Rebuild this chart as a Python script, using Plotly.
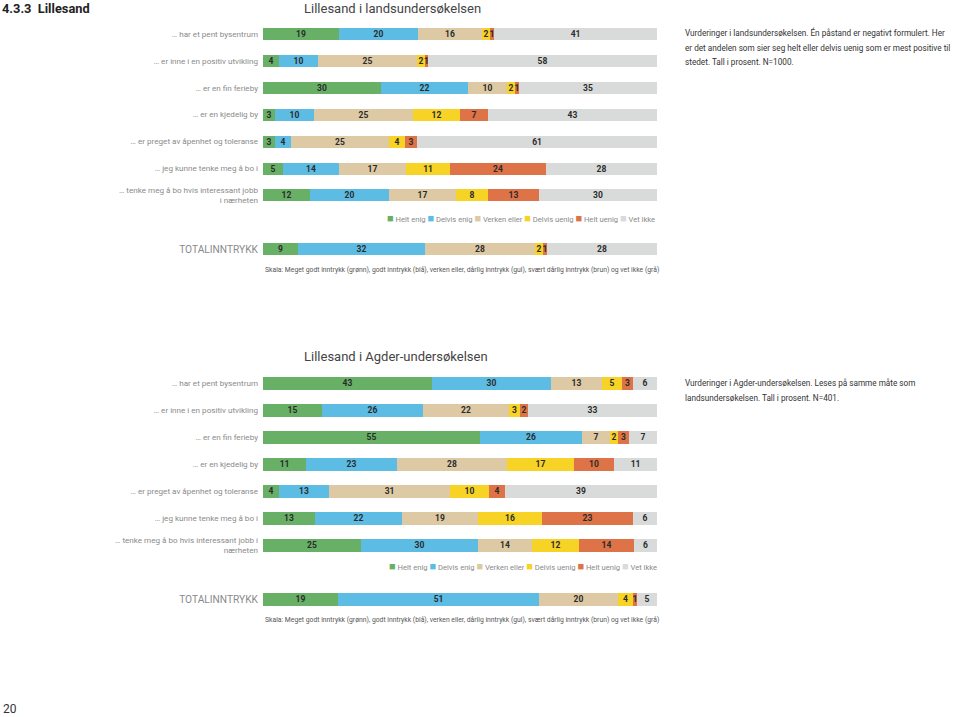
import plotly.graph_objects as go

W, H = 960, 717

series = ["Helt enig", "Delvis enig", "Verken eller", "Delvis uenig", "Helt uenig", "Vet ikke"]
colors = ["#67b066", "#5cbce4", "#ddcaa5", "#f6d325", "#dd7346", "#d9dbdb"]

land_categories = [
    "… har et pent bysentrum",
    "… er inne i en positiv utvikling",
    "… er en fin ferieby",
    "… er en kjedelig by",
    "… er preget av åpenhet og toleranse",
    "… jeg kunne tenke meg å bo i",
    "… tenke meg å bo hvis interessant jobb<br>i nærheten",
]
land_helt_enig = [19, 4, 30, 3, 3, 5, 12]
land_delvis_enig = [20, 10, 22, 10, 4, 14, 20]
land_verken = [16, 25, 10, 25, 25, 17, 17]
land_delvis_uenig = [2, 2, 2, 12, 4, 11, 8]
land_helt_uenig = [1, 1, 1, 7, 3, 24, 13]
land_vet_ikke = [41, 58, 35, 43, 61, 28, 30]
land_total = [9, 32, 28, 2, 1, 28]

agder_categories = [
    "… har et pent bysentrum",
    "… er inne i en positiv utvikling",
    "… er en fin ferieby",
    "… er en kjedelig by",
    "… er preget av åpenhet og toleranse",
    "… jeg kunne tenke meg å bo i",
    "… tenke meg å bo hvis interessant jobb i<br>nærheten",
]
agder_helt_enig = [43, 15, 55, 11, 4, 13, 25]
agder_delvis_enig = [30, 26, 26, 23, 13, 22, 30]
agder_verken = [13, 22, 7, 28, 31, 19, 14]
agder_delvis_uenig = [5, 3, 2, 17, 10, 16, 12]
agder_helt_uenig = [3, 2, 3, 10, 4, 23, 14]
agder_vet_ikke = [6, 33, 7, 11, 39, 6, 6]
agder_total = [19, 51, 20, 4, 1, 5]

total_label = ["TOTALINNTRYKK"]

FONT = "Roboto, sans-serif"
fig = go.Figure()


def add_stack(cols, cats, xa, ya):
    sums = [sum(c[i] for c in cols) for i in range(len(cats))]
    for s, col, vals in zip(series, colors, cols):
        fig.add_trace(go.Bar(
            name=s, orientation="h", y=cats,
            x=[v / t * 100 for v, t in zip(vals, sums)],
            text=[str(v) for v in vals],
            textposition="inside", insidetextanchor="middle", textangle=0,
            constraintext="none", cliponaxis=False,
            textfont=dict(family=FONT, size=8.5, color="#2b2b2b", weight="bold"),
            marker=dict(color=col, line=dict(width=0)),
            width=0.45, xaxis=xa, yaxis=ya, showlegend=False,
            hoverinfo="skip",
        ))


land_cols = [land_helt_enig, land_delvis_enig, land_verken, land_delvis_uenig, land_helt_uenig, land_vet_ikke]
agder_cols = [agder_helt_enig, agder_delvis_enig, agder_verken, agder_delvis_uenig, agder_helt_uenig, agder_vet_ikke]

add_stack(land_cols, land_categories, "x", "y")
add_stack([[v] for v in land_total], total_label, "x2", "y2")
add_stack(agder_cols, agder_categories, "x3", "y3")
add_stack([[v] for v in agder_total], total_label, "x4", "y4")


def px(p):
    return p / W


def py(p):
    return 1 - p / H


xdom = [px(263), px(657)]
xax = dict(domain=xdom, range=[0, 100], visible=False, fixedrange=True)
yax = dict(showgrid=False, zeroline=False, showline=False, ticks="", fixedrange=True,
           tickfont=dict(family=FONT, size=8.1, color="#8a8a8a"), ticklabelstandoff=4)
ytot_font = dict(family=FONT, size=10.2, color="#8a8a8a")

fig.update_layout(
    width=W, height=H, margin=dict(l=0, r=0, t=0, b=0),
    paper_bgcolor="white", plot_bgcolor="white",
    barmode="stack", bargap=0,
    xaxis=dict(xax, anchor="y"),
    xaxis2=dict(xax, anchor="y2"),
    xaxis3=dict(xax, anchor="y3"),
    xaxis4=dict(xax, anchor="y4"),
    yaxis=dict(yax, anchor="x", domain=[py(34 + 6 * 26.83 + 13.4), py(34 - 13.4)],
               categoryorder="array", categoryarray=land_categories, range=[6.5, -0.5]),
    yaxis2=dict(yax, anchor="x2", domain=[py(249 + 13.4), py(249 - 13.4)], range=[0.5, -0.5],
                tickfont=ytot_font),
    yaxis3=dict(yax, anchor="x3", domain=[py(383 + 6 * 27 + 13.5), py(383 - 13.5)],
                categoryorder="array", categoryarray=agder_categories, range=[6.5, -0.5]),
    yaxis4=dict(yax, anchor="x4", domain=[py(599 + 13.5), py(599 - 13.5)], range=[0.5, -0.5],
                tickfont=ytot_font),
)


def legend_text():
    parts = [f'<span style="color:{c};font-size:11px">■</span> {s}' for s, c in zip(series, colors)]
    return " ".join(parts)


skala = ("Skala: Meget godt inntrykk (grønn), godt inntrykk (blå), verken eller, dårlig inntrykk (gul), "
         "svært dårlig inntrykk (brun) og vet ikke (grå)")

note_land = [
    "Vurderinger i landsundersøkelsen. Én påstand er negativt formulert. Her",
    "er det andelen som sier seg helt eller delvis uenig som er mest positive til",
    "stedet. Tall i prosent. N=1000.",
]
note_agder = [
    "Vurderinger i Agder-undersøkelsen. Leses på samme måte som",
    "landsundersøkelsen. Tall i prosent. N=401.",
]

ann = [
    dict(text="<b>4.3.3  Lillesand</b>", x=px(0), y=py(8), xanchor="left", yanchor="middle",
         font=dict(family=FONT, size=12.8, color="#222")),
    dict(text="Lillesand i landsundersøkelsen", x=px(302), y=py(8), xanchor="left", yanchor="middle",
         font=dict(family=FONT, size=13, color="#444")),
    dict(text="Lillesand i Agder-undersøkelsen", x=px(302), y=py(356), xanchor="left", yanchor="middle",
         font=dict(family=FONT, size=13, color="#444")),
    dict(text=legend_text(), x=px(657), y=py(218), xanchor="right", yanchor="middle",
         font=dict(family=FONT, size=7.6, color="#8a8a8a")),
    dict(text=legend_text(), x=px(659), y=py(566), xanchor="right", yanchor="middle",
         font=dict(family=FONT, size=7.6, color="#8a8a8a")),
    dict(text=skala, x=px(263), y=py(270), xanchor="left", yanchor="middle",
         font=dict(family=FONT, size=6.8, color="#555")),
    dict(text=skala, x=px(263), y=py(620), xanchor="left", yanchor="middle",
         font=dict(family=FONT, size=6.8, color="#555")),
    dict(text="20", x=px(1), y=py(709), xanchor="left", yanchor="middle",
         font=dict(family=FONT, size=12, color="#333")),
]
for i, line in enumerate(note_land):
    ann.append(dict(text=line, x=px(683), y=py(33 + i * 14.5), xanchor="left", yanchor="middle",
                    font=dict(family=FONT, size=8.2, color="#333")))
for i, line in enumerate(note_agder):
    ann.append(dict(text=line, x=px(683), y=py(383 + i * 14.5), xanchor="left", yanchor="middle",
                    font=dict(family=FONT, size=8.2, color="#333")))
for a in ann:
    a.update(xref="paper", yref="paper", showarrow=False)
fig.update_layout(annotations=ann)

fig.write_html("out.html", config={"displayModeBar": False},
               post_script="document.body.style.margin='0px';")
